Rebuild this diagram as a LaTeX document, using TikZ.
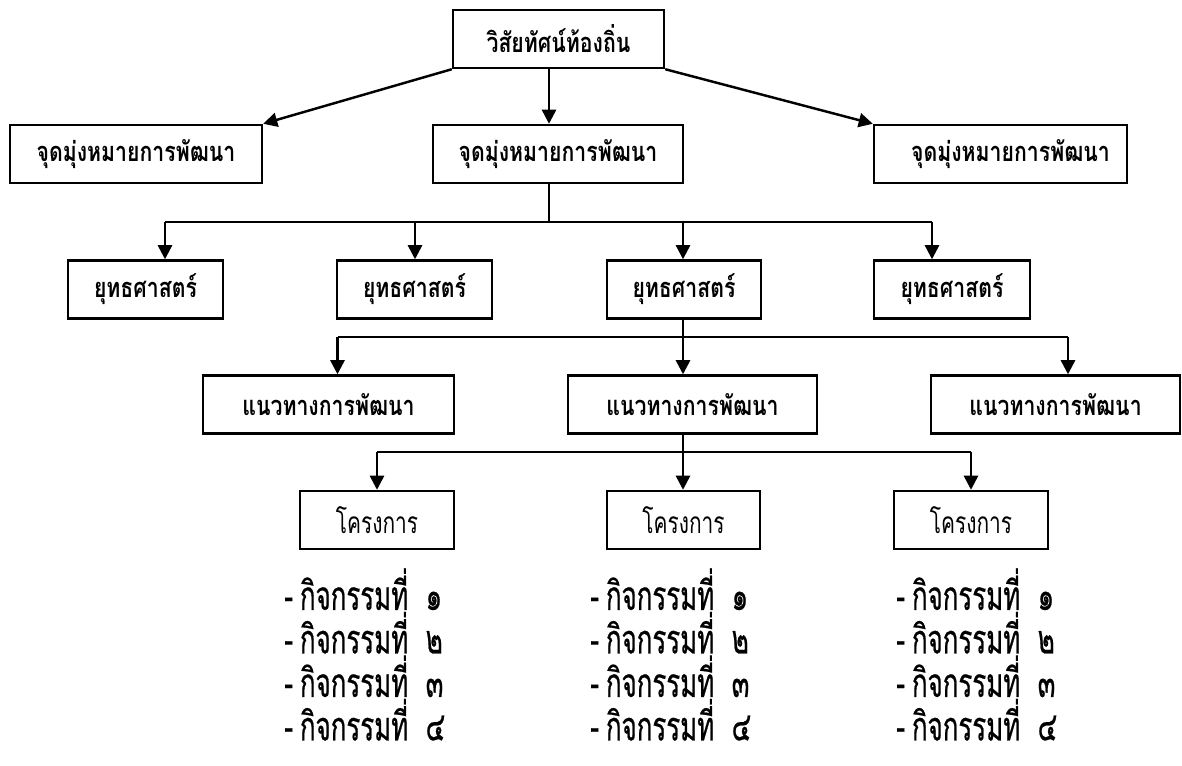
\documentclass[tikz,border=0pt]{standalone}
\usepackage{fontspec}
\usetikzlibrary{arrows.meta}
\newfontfamily\thaifont[Script=Thai,FakeStretch=0.78]{Loma}
\newfontfamily\listfont[Script=Thai,FakeStretch=0.64,FakeBold=0.5]{Loma}
\newfontfamily\projfont[Script=Thai,FakeStretch=0.7]{Loma}
\begin{document}
\begin{tikzpicture}[x=0.02cm,y=-0.02cm,
		box/.style={draw,line width=1.4pt,minimum height=1.16cm,inner sep=0pt,font=\thaifont\bfseries\fontsize{15.5}{17}\selectfont},
		proj/.style={box,font=\projfont\fontsize{17}{18}\selectfont},
		acts/.style={anchor=north west,align=left,inner sep=0pt,font=\listfont\fontsize{23}{22.8}\selectfont},
		arr/.style={line width=1.4pt,-{Triangle[length=8pt,width=8pt]}},
		bus/.style={line width=1.4pt}]
		\useasboundingbox (0,0) rectangle (1182,766);
		% boxes
		\node[box,minimum width=4.22cm] (vision) at (558.5,39) {วิสัยทัศน์ท้องถิ่น};
		\node[box,minimum width=5.04cm] (goalL) at (136,154) {จุดมุ่งหมายการพัฒนา};
		\node[box,minimum width=5.0cm] (goalC) at (558,154) {จุดมุ่งหมายการพัฒนา\hspace{0.4cm}};
		\node[box,minimum width=5.06cm] (goalR) at (1000.5,154) {\hspace{0.4cm}จุดมุ่งหมายการพัฒนา};
		\node[box,minimum width=3.1cm] (stratA) at (145.5,289.5) {ยุทธศาสตร์};
		\node[box,minimum width=3.1cm] (stratB) at (414.5,289.5) {ยุทธศาสตร์};
		\node[box,minimum width=3.08cm] (stratC) at (684,289.5) {ยุทธศาสตร์};
		\node[box,minimum width=3.12cm] (stratD) at (952,289.5) {ยุทธศาสตร์};
		\node[box,minimum width=5.02cm] (wayA) at (328.5,404.5) {แนวทางการพัฒนา};
		\node[box,minimum width=4.98cm] (wayB) at (692.5,404.5) {แนวทางการพัฒนา};
		\node[box,minimum width=4.98cm] (wayC) at (1055.5,404.5) {แนวทางการพัฒนา};
		\node[proj,minimum width=3.08cm] (projA) at (377,520) {โครงการ};
		\node[proj,minimum width=3.06cm] (projB) at (683.5,520) {โครงการ};
		\node[proj,minimum width=3.08cm] (projC) at (971,520) {โครงการ};
		% activity lists
		\node[acts] (listA) at (284,568) {-\hspace{4pt}กิจกรรมที่\ \ ๑\\-\hspace{4pt}กิจกรรมที่\ \ ๒\\-\hspace{4pt}กิจกรรมที่\ \ ๓\\-\hspace{4pt}กิจกรรมที่\ \ ๔};
		\node[acts] (listB) at (590,568) {-\hspace{4pt}กิจกรรมที่\ \ ๑\\-\hspace{4pt}กิจกรรมที่\ \ ๒\\-\hspace{4pt}กิจกรรมที่\ \ ๓\\-\hspace{4pt}กิจกรรมที่\ \ ๔};
		\node[acts] (listC) at (896,568) {-\hspace{4pt}กิจกรรมที่\ \ ๑\\-\hspace{4pt}กิจกรรมที่\ \ ๒\\-\hspace{4pt}กิจกรรมที่\ \ ๓\\-\hspace{4pt}กิจกรรมที่\ \ ๔};
		% junction points
		\coordinate (trunk) at (549,0);
		\coordinate (a1) at (165,222);
		\coordinate (a2) at (415,222);
		\coordinate (a3) at (683,222);
		\coordinate (a4) at (932,222);
		\coordinate (b1) at (337.5,337);
		\coordinate (b2) at (683,337);
		\coordinate (b3) at (1068,337);
		\coordinate (c1) at (377,452);
		\coordinate (c2) at (683,452);
		\coordinate (c3) at (971,452);
		% vision to goals
		\draw [arr] (vision.south west) -- (goalL.north east);
		\draw [arr] (vision.south -| trunk) -- (goalC.north -| trunk);
		\draw [arr] (vision.south east) -- (goalR.north west);
		% goal to strategies
		\draw [bus] (goalC.south -| trunk) -- (a1 -| trunk);
		\draw [bus] (a1) -- (a4);
		\draw [arr] (a1) -- (stratA.north -| a1);
		\draw [arr] (a2) -- (stratB.north -| a2);
		\draw [arr] (a3) -- (stratC.north -| a3);
		\draw [arr] (a4) -- (stratD.north -| a4);
		% strategy to guidelines
		\draw [bus] (stratC.south -| b2) -- (b2);
		\draw [bus] (b1) -- (b3);
		\draw [arr] (b1) -- (wayA.north -| b1);
		\draw [arr] (b2) -- (wayB.north -| b2);
		\draw [arr] (b3) -- (wayC.north -| b3);
		% guideline to projects
		\draw [bus] (wayB.south -| c2) -- (c2);
		\draw [bus] (c1) -- (c3);
		\draw [arr] (c1) -- (projA.north);
		\draw [arr] (c2) -- (projB.north -| c2);
		\draw [arr] (c3) -- (projC.north);
	\end{tikzpicture}
\end{document}
